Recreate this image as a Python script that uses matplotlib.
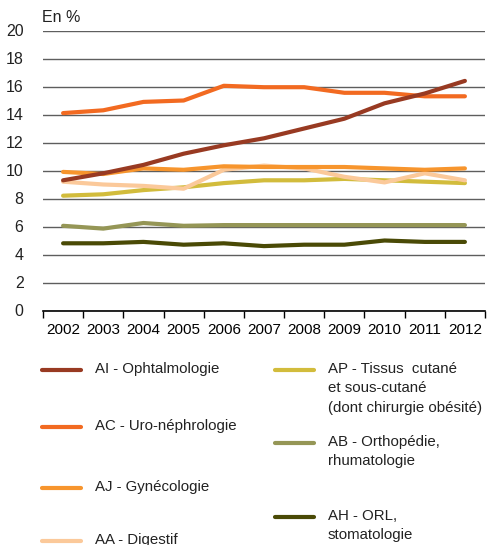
import matplotlib.pyplot as plt
from matplotlib.lines import Line2D
import numpy as np

plt.rcParams['font.family'] = ['Liberation Sans', 'DejaVu Sans']

years = ['2002', '2003', '2004', '2005', '2006', '2007', '2008', '2009', '2010', '2011', '2012']

ai = [9.3, 9.8, 10.4, 11.2, 11.8, 12.3, 13.0, 13.7, 14.8, 15.5, 16.4]
ac = [14.1, 14.3, 14.9, 15.0, 16.05, 15.95, 15.95, 15.55, 15.55, 15.3, 15.3]
aj = [9.9, 9.75, 10.15, 10.05, 10.3, 10.25, 10.25, 10.25, 10.15, 10.05, 10.15]
aa = [9.2, 9.0, 8.9, 8.7, 10.05, 10.35, 10.15, 9.55, 9.15, 9.8, 9.3]
ap = [8.2, 8.3, 8.6, 8.8, 9.1, 9.3, 9.3, 9.4, 9.3, 9.2, 9.1]
ab = [6.05, 5.85, 6.25, 6.05, 6.1, 6.1, 6.1, 6.1, 6.1, 6.1, 6.1]
ah = [4.8, 4.8, 4.9, 4.7, 4.8, 4.6, 4.7, 4.7, 5.0, 4.9, 4.9]

labels = ['AI - Ophtalmologie', 'AC - Uro-néphrologie', 'AJ - Gynécologie', 'AA - Digestif',
          'AP - Tissus  cutané\net sous-cutané\n(dont chirurgie obésité)',
          'AB - Orthopédie,\nrhumatologie', 'AH - ORL,\nstomatologie']
colors = ['#983A22', '#F26A21', '#F7952D', '#FBC99A', '#D2BC3C', '#959656', '#4A4A06']
series = [ai, ac, aj, aa, ap, ab, ah]

fig = plt.figure(figsize=(4.92, 5.45), dpi=100)
ax = fig.add_axes([43 / 492, 1 - 310.5 / 545, 442 / 492, 280 / 545])

x = np.arange(len(years))
# draw back to front so AI/AC sit on top
for s, c in list(zip(series, colors))[::-1]:
    ax.plot(x, s, color=c, lw=3.0, solid_capstyle='round', zorder=3)

ax.set_xlim(-0.5, len(years) - 0.5)
ax.set_ylim(0, 20)
ax.set_yticks(np.arange(0, 21, 2))
ax.set_xticks(x)
ax.set_xticklabels(years)
ax.set_xticks(np.arange(-0.5, len(years)), minor=True)
ax.tick_params(axis='x', which='major', length=0, pad=9, labelsize=11)
ax.tick_params(axis='x', which='minor', length=5, width=1, direction='out', color='black')
ax.tick_params(axis='y', length=0, pad=14, labelsize=11.5)
for t in ax.get_yticklabels():
    t.set_color('#222222')

ax.grid(axis='y', color='#5e5e5e', lw=1, zorder=0)
for side in ['top', 'right', 'left']:
    ax.spines[side].set_visible(False)
ax.spines['bottom'].set_color('black')
ax.spines['bottom'].set_linewidth(1.2)
ax.spines['bottom'].set_zorder(4)

fig.text(42 / 492, 1 - 18 / 545, 'En %', fontsize=11.5, va='center', ha='left', color='#222222')

# legend, two hand placed columns
leg_pos = [(42, 370), (42, 427), (42, 488), (42, 541), (275, 370), (275, 443), (275, 517)]
for (lx, ly), lab, c in zip(leg_pos, labels, colors):
    fig.add_artist(Line2D([lx / 492, (lx + 39) / 492], [1 - ly / 545, 1 - ly / 545],
                          color=c, lw=3.0, solid_capstyle='round', transform=fig.transFigure))
    fig.text((lx + 53) / 492, 1 - (ly - 8) / 545, lab, fontsize=10.8, va='top', ha='left',
             color='#222222', linespacing=1.5)

fig.savefig('out.png', dpi=100)
